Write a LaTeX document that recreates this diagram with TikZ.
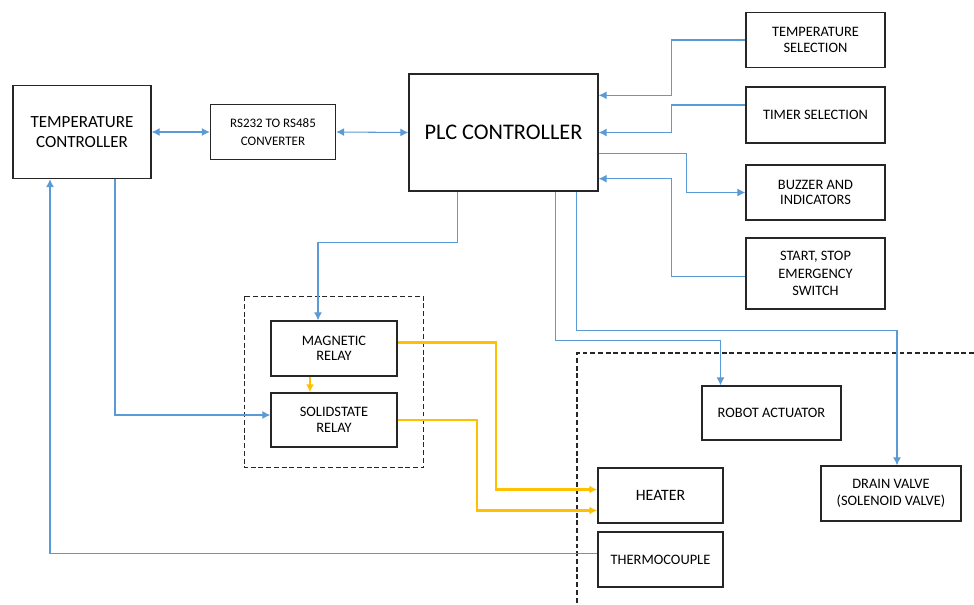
\documentclass[tikz,border=0pt]{standalone}
\usepackage{fontspec}
\setmainfont{Carlito}
\usetikzlibrary{arrows.meta,positioning,calc}

\definecolor{sigblue}{RGB}{91,155,213}
\definecolor{pwryellow}{RGB}{255,192,0}
\definecolor{boxgray}{RGB}{38,38,38}

\tikzset{
  box/.style={draw=boxgray, line width=0.8pt, align=center, inner sep=0pt,
    font=\fontsize{8.2}{8.8}\selectfont},
  sig/.style={draw=sigblue, line width=0.6pt},
  pwr/.style={draw=pwryellow, line width=1.3pt},
  grp/.style={draw=boxgray, line width=0.7pt, dash pattern=on 2.8pt off 1.6pt},
  >={Latex[length=4.5pt,width=4.5pt]}
}

\begin{document}
\begin{tikzpicture}[x=0.02cm, y=-0.02cm]
\useasboundingbox (0,0) rectangle (974,605);

% blocks on the left and in the middle
\node[box, minimum width=2.76cm, minimum height=1.86cm, font=\fontsize{9.7}{11.4}\selectfont]
  (tc) at (82,132) {TEMPERATURE\\CONTROLLER};
\node[box, minimum width=2.5cm, minimum height=1.1cm, font=\fontsize{7.4}{10}\selectfont]
  (rs) at (273,132) {RS232 TO RS485\\CONVERTER};
\node[box, minimum width=3.78cm, minimum height=2.34cm, font=\fontsize{12.7}{14}\selectfont]
  (plc) at (503.5,132.5) {PLC CONTROLLER};

% operator inputs and outputs
\node[box, minimum width=2.78cm, minimum height=1.1cm] (tsel) at (815.5,40) {TEMPERATURE\\SELECTION};
\node[box, minimum width=2.78cm, minimum height=1.12cm] (tmr) at (815.5,115) {TIMER SELECTION};
\node[box, minimum width=2.78cm, minimum height=1.1cm] (buz) at (815.5,192.5) {BUZZER AND\\INDICATORS};
\node[box, minimum width=2.78cm, minimum height=1.42cm, font=\fontsize{8.2}{9.8}\selectfont]
  (sss) at (815.5,273.5) {START, STOP\\EMERGENCY\\SWITCH};

% relays
\node[box, minimum width=2.52cm, minimum height=1.1cm] (mag) at (334,348.5) {MAGNETIC\\RELAY};
\node[box, minimum width=2.52cm, minimum height=1.08cm, font=\fontsize{8.2}{9.4}\selectfont]
  (ssr) at (334,420) {SOLIDSTATE\\RELAY};
\draw[grp] ($(mag.north west)+(-26,-24)$) rectangle ($(ssr.south east)+(26,20)$);

% field devices
\node[box, minimum width=2.78cm, minimum height=1.08cm] (rob) at (771.5,413) {ROBOT ACTUATOR};
\node[box, minimum width=2.5cm, minimum height=1.1cm, font=\fontsize{9}{10}\selectfont]
  (htr) at (660.5,495.5) {HEATER};
\node[box, minimum width=2.5cm, minimum height=1.1cm] (thc) at (660.5,559.5) {THERMOCOUPLE};
\node[box, minimum width=2.8cm, minimum height=1.1cm, font=\fontsize{8.2}{9.8}\selectfont]
  (drv) at (891,493.5) {DRAIN VALVE\\(SOLENOID VALVE)};
\draw[grp] (974,353) -- (577,353) -- (577,605);

% serial link
\draw[sig,<->] (tc.east) -- (rs.west);
\draw[sig,<->] (rs.east) -- (plc.west);

% PLC right side
\draw[sig,<-] ($(plc.north east)+(0,22)$) -| ($(tsel.west)+(-74,0)$) -- (tsel.west);
\draw[sig,<-] (plc.east) -| ($(tmr.west)+(-74,-10)$) -- ($(tmr.west)+(0,-10)$);
\draw[sig,->] ($(plc.east)+(0,21)$) -| ($(buz.west)+(-59,0)$) -- (buz.west);
\draw[sig,<-] ($(plc.south east)+(0,-13)$) -| ($(sss.west)+(-74,3)$) -- ($(sss.west)+(0,3)$);

% PLC outputs below
\draw[sig,->] ($(plc.south west)+(49,0)$) |- ($(mag.north)+(-16,-78)$) -- ($(mag.north)+(-16,0)$);
\draw[sig,->] ($(plc.south west)+(147,0)$) |- ($(rob.north)+(-51,-45)$) -- ($(rob.north)+(-51,0)$);
\draw[sig,->] ($(plc.south west)+(168,0)$) |- ($(drv.north)+(6,-135)$) -- ($(drv.north)+(6,0)$);

% temperature loop
\draw[sig,->] ($(thc.west)+(0,-6)$) -| ($(tc.south)+(-32,0)$);
\draw[sig,->] ($(tc.south)+(33,0)$) |- ($(ssr.west)+(0,-5)$);

% heater power
\draw[pwr,->] ($(mag.south)+(-24,0)$) -- ($(ssr.north)+(-24,0)$);
\draw[pwr,->] ($(mag.east)+(0,-6)$) -| ($(htr.west)+(-101,-6)$) -- ($(htr.west)+(0,-6)$);
\draw[pwr,->] (ssr.east) -| ($(htr.west)+(-120,15)$) -- ($(htr.west)+(0,15)$);
\end{tikzpicture}
\end{document}
